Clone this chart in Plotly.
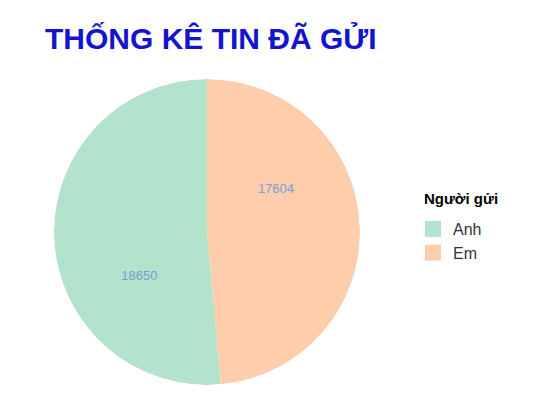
import plotly.graph_objects as go

labels = ["Anh", "Em"]
values = [18650, 17604]
colors = ["#B3E2CD", "#FDCDAC"]
title_text = "THỐNG KÊ TIN ĐÃ GỬI"
legend_title = "Người gửi"

W, H = 550, 413
OFF = 8  # page body margin of the browser

def px_x(x):
    return (x - OFF) / W

def px_y(y):
    return 1 - (y - OFF) / H

total = sum(values)
em, anh = values[1], values[0]
# slices clockwise from top: Em first, then Anh
slice_start = {"Em": 0, "Anh": em}
val = dict(zip(labels, values))
col = dict(zip(labels, colors))
# label angles as placed in the original (one third into each slice)
label_pos = {k: (slice_start[k] + val[k] / 3) / total * 360 for k in labels}

dom_x = [px_x(54), px_x(360)]
dom_y = [px_y(385), px_y(79)]

fig = go.Figure()
for k in labels:
    fig.add_trace(go.Barpolar(
        name=k, r=[1], base=[0],
        theta=[(slice_start[k] + val[k] / 2) / total * 360],
        width=[val[k] / total * 360],
        marker=dict(color=col[k], line=dict(width=0)),
        legendgroup=k, showlegend=False,
        hovertext=[f"{k}: {val[k]}"], hoverinfo="text",
    ))
fig.add_trace(go.Scatterpolar(
    r=[0.53 for _ in labels], theta=[label_pos[k] for k in labels],
    text=[str(val[k]) for k in labels], mode="text",
    textfont=dict(family="Liberation Sans, Arial", size=13, color="#7B9FD4"),
    showlegend=False, hoverinfo="skip",
))
# legend keys
for k in labels:
    fig.add_trace(go.Scatterpolar(
        name=k, r=[None], theta=[None], mode="markers",
        marker=dict(symbol="square", size=16, color=col[k]),
        legendgroup=k, showlegend=True, hoverinfo="skip",
    ))
fig.add_annotation(
    text=f"<b>{legend_title}</b>", xref="paper", yref="paper",
    x=px_x(422), xanchor="left", y=px_y(198), yanchor="middle", showarrow=False,
    font=dict(family="Liberation Sans, Arial", size=15, color="black"),
)
fig.update_layout(
    width=W, height=H,
    margin=dict(l=0, r=0, t=0, b=0),
    paper_bgcolor="white", plot_bgcolor="white",
    title=dict(text=f"<b>{title_text}</b>", x=px_x(45), xanchor="left",
               y=px_y(38), yanchor="middle",
               font=dict(family="Liberation Sans, Arial", size=30, color="#1414CC")),
    polar=dict(domain=dict(x=dom_x, y=dom_y), bgcolor="rgba(0,0,0,0)",
               bargap=0,
               angularaxis=dict(rotation=90, direction="clockwise", visible=False,
                                showgrid=False),
               radialaxis=dict(range=[0, 1], visible=False, showgrid=False)),
    legend=dict(font=dict(family="Liberation Sans, Arial", size=16, color="#333333"),
                x=px_x(413), xanchor="left", y=px_y(212), yanchor="top",
                traceorder="normal", itemsizing="trace", tracegroupgap=1),
)
fig.write_html("out.html")
